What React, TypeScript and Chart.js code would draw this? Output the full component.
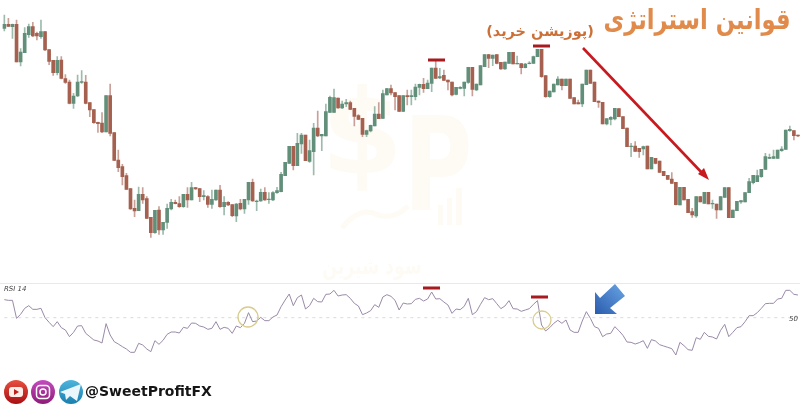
import React, { useEffect, useRef } from "react";
import { Chart, registerables } from "chart.js";

Chart.register(...registerables);

const opens = [
  635,647,640,647,534,562,616,640,620,610,
  625,571,539,502,540,484,474,410,432,473,
  474,412,391,353,351,324,433,322,240,220,
  193,154,95,88,137,124,68,22,90,30,
  53,93,113,109,100,137,120,157,154,130,
  130,107,120,150,100,113,106,72,110,93,
  120,173,115,117,143,121,120,142,145,193,
  230,281,223,288,315,236,265,336,312,312,
  383,383,426,396,408,412,395,373,365,317,
  327,342,378,365,435,454,442,433,386,433,
  430,430,458,467,454,470,516,486,494,480,
  474,437,455,455,473,518,450,465,520,556,
  545,556,533,513,530,563,528,529,517,529,
  530,550,572,493,430,444,465,483,463,483,
  427,412,408,466,510,474,417,413,348,362,
  363,394,370,336,280,282,275,273,282,213,
  245,237,206,194,183,173,105,158,122,85,
  72,130,110,143,108,108,90,128,157,67,
  88,114,114,142,172,175,190,212,245,245,
  245,268,272,328,328,315,
];
const highs = [
  675,665,648,660,574,637,648,653,624,660,
  625,571,539,550,550,496,480,440,495,508,
  494,412,391,354,382,433,468,322,270,227,
  200,154,120,159,157,130,68,89,100,53,
  108,122,120,130,137,157,173,158,155,148,
  133,150,150,164,130,115,106,110,122,122,
  173,183,120,153,157,142,145,158,203,233,
  281,281,320,320,315,300,350,387,317,408,
  432,453,426,417,422,417,395,376,365,330,
  345,400,412,450,455,465,442,433,433,450,
  450,468,468,485,480,516,540,515,510,480,
  474,458,460,474,518,518,468,523,556,557,
  555,556,533,534,563,563,552,529,530,535,
  552,572,572,493,447,468,490,483,483,483,
  427,420,468,510,510,474,417,413,364,370,
  395,394,370,336,290,295,275,282,282,248,
  245,237,206,194,202,173,158,158,122,95,
  130,130,143,143,120,108,130,157,157,90,
  116,118,142,185,194,210,212,260,258,270,
  270,280,330,342,328,315,
];
const lows = [
  627,640,605,534,522,562,608,610,600,605,
  568,526,494,495,483,470,408,395,430,470,
  408,370,350,323,322,324,312,238,205,165,
  152,92,70,88,110,64,8,20,17,17,
  35,90,108,98,98,98,120,152,115,120,
  98,95,119,98,75,103,70,55,90,80,
  107,116,88,116,119,110,118,140,144,193,
  230,210,223,260,238,233,195,310,268,312,
  382,383,395,394,400,391,342,361,310,310,
  324,342,364,364,435,435,390,385,385,405,
  405,420,435,443,454,445,485,484,478,450,
  432,435,453,432,470,432,448,465,520,517,
  523,528,512,512,530,528,528,498,516,528,
  530,550,488,428,428,444,465,450,463,425,
  408,408,400,466,470,415,398,348,345,345,
  360,370,334,280,250,265,248,255,213,213,
  228,203,193,182,170,105,105,120,82,68,
  68,114,110,108,95,65,90,128,67,67,
  88,110,114,142,168,175,188,212,244,244,
  245,266,272,326,300,310,
];
const closes = [
  647,641,647,534,564,620,640,612,612,625,
  570,536,502,539,485,473,410,432,474,475,
  410,390,352,349,324,433,320,239,217,190,
  152,93,87,137,120,65,22,89,30,53,
  95,113,109,100,137,120,157,153,130,133,
  107,122,150,100,113,105,73,108,93,122,
  173,117,117,143,120,123,142,148,197,233,
  281,223,290,315,238,268,336,312,317,385,
  428,427,396,408,412,392,371,362,317,328,
  344,378,364,439,454,441,430,386,433,430,
  433,459,467,454,471,516,485,490,479,474,
  435,458,458,474,518,452,468,523,556,545,
  555,530,513,534,563,528,530,517,528,531,
  550,572,490,430,447,468,483,463,483,425,
  408,408,468,510,470,415,413,348,364,368,
  395,370,334,280,282,266,265,280,213,248,
  230,203,193,182,170,106,158,120,82,75,
  130,114,143,108,110,90,130,157,67,90,
  116,118,142,175,194,193,212,250,248,250,
  270,273,330,332,313,312,
];
const rsi = [
  63.5,63,63,49.5,52.5,57,59,56.25,56.25,57,
  50,46.5,43.25,47,42.5,40.75,35.75,39,43.75,44,
  38.25,35.75,33.25,32.5,31,45.5,37,32,30.25,28.25,
  26.5,24,24,30.75,29.5,26.5,24.5,32.75,30,33,
  37.5,39.25,39.25,38.5,42.75,42,46,45.75,43.75,43,
  41.25,42,47,41.25,42.75,42,38.25,43.75,42.5,45.75,
  53.75,47,47.5,50.25,47.75,47.75,50.5,52,58.25,63.25,
  67.75,59,65,67,56.5,59,64.5,62,61.75,67.5,
  67.75,70.5,66.25,67,67.25,64.5,60.75,58.75,52.25,53.5,
  55.25,59.75,57.75,65.5,67.25,66,63,55.75,61,60.25,
  60.5,63.75,64.5,62.5,64,69.25,64,64.25,61.75,59.5,
  53.25,56.5,56,58.5,64.5,52.25,54.5,60,65,63.5,
  64.25,60.5,56.75,58.75,62.75,56.75,56.5,54.75,55.75,56.75,
  60,62.75,44.5,40,42.5,45.75,48,45.75,48.25,40.75,
  39,39,47.5,54.5,49.5,43.25,42,35.75,37.75,38.25,
  43.25,40.25,36.75,31.75,31.5,30.25,31.25,32.75,27,33.5,
  32.5,29.75,28.75,27.75,26.75,22,31.5,29,26,25.5,
  35,33.75,39,36,35.5,34,40.5,45,35.75,39,
  42.5,43.25,47,51.5,51.5,53.75,57,60.5,60.75,60.75,
  64,64.5,70.5,70.5,67.5,67,
];
const rsiMid = rsi.map(() => 50);
const labels = opens.map((_, i) => String(i));

const titleText = "قوانین استراتژی";
const subtitleText = "(پوزیشن خرید)";
const watermarkText = "سود شیرین";
const handleText = "@SweetProfitFX";
const rsiLabel = "RSI 14";
const midLabel = "50";

const GREEN = "#628f79";
const RED = "#a5604f";
const GREEN_W = "#9dbbac";
const RED_W = "#c9a097";

function drawBackdrop(ctx: CanvasRenderingContext2D) {
  ctx.save();
  ctx.fillStyle = "#ffffff";
  ctx.fillRect(0, 0, 800, 409);
  ctx.fillStyle = "#fefbf5";
  ctx.textAlign = "center";
  ctx.textBaseline = "middle";
  ctx.font = "bold 118px 'DejaVu Sans'";
  ctx.fillText("$", 362, 143);
  ctx.save();
  ctx.translate(438, 176);
  ctx.scale(0.72, 1);
  ctx.font = "bold 130px 'DejaVu Sans'";
  ctx.fillText("P", 0, 0);
  ctx.restore();
  ctx.fillRect(438, 205, 5, 20);
  ctx.fillRect(447, 198, 5, 27);
  ctx.fillRect(456, 188, 6, 37);
  ctx.strokeStyle = "#fefbf5";
  ctx.lineWidth = 5;
  ctx.beginPath();
  ctx.moveTo(342, 228);
  ctx.quadraticCurveTo(360, 205, 378, 215);
  ctx.quadraticCurveTo(395, 220, 408, 206);
  ctx.stroke();
  ctx.save();
  ctx.translate(372, 268);
  ctx.scale(0.72, 1);
  ctx.font = "bold 24px 'DejaVu Sans'";
  ctx.fillText(watermarkText, 0, 0);
  ctx.restore();
  ctx.strokeStyle = "#e9e9e9";
  ctx.lineWidth = 1;
  ctx.beginPath();
  ctx.moveTo(0, 283.5);
  ctx.lineTo(800, 283.5);
  ctx.stroke();
  ctx.restore();
}

function dash(ctx: CanvasRenderingContext2D, x0: number, x1: number, y: number) {
  ctx.fillStyle = "#a81a1e";
  ctx.fillRect(x0, y - 1.5, x1 - x0, 3);
}

function ring(ctx: CanvasRenderingContext2D, x: number, y: number, r: number) {
  ctx.strokeStyle = "#d9cc8e";
  ctx.lineWidth = 1.3;
  ctx.beginPath();
  ctx.arc(x, y, r, 0, Math.PI * 2);
  ctx.stroke();
}

function badge(ctx: CanvasRenderingContext2D, x: number, y: number, c0: string, c1: string) {
  const g = ctx.createLinearGradient(x, y - 12, x, y + 12);
  g.addColorStop(0, c0);
  g.addColorStop(1, c1);
  ctx.fillStyle = g;
  ctx.beginPath();
  ctx.arc(x, y, 12, 0, Math.PI * 2);
  ctx.fill();
}

function drawOverlay(ctx: CanvasRenderingContext2D) {
  ctx.save();
  ctx.textBaseline = "middle";
  ctx.direction = "rtl";
  ctx.textAlign = "center";
  ctx.fillStyle = "#e08b4c";
  ctx.save();
  ctx.translate(697, 22);
  ctx.scale(0.87, 1.08);
  ctx.font = "bold 26px 'DejaVu Sans'";
  ctx.fillText(titleText, 0, 0);
  ctx.restore();
  ctx.fillStyle = "#cc7038";
  ctx.font = "bold 14.5px 'DejaVu Sans'";
  ctx.fillText(subtitleText, 540, 32);
  ctx.direction = "ltr";

  dash(ctx, 428, 445, 60);
  dash(ctx, 533, 550, 46);
  dash(ctx, 423, 440, 288);
  dash(ctx, 531, 548, 297);

  ring(ctx, 248, 317, 10);
  ring(ctx, 542, 320, 9);

  ctx.strokeStyle = "#c8191e";
  ctx.lineWidth = 2.6;
  ctx.beginPath();
  ctx.moveTo(583, 48);
  ctx.lineTo(704, 175);
  ctx.stroke();
  ctx.fillStyle = "#c8191e";
  ctx.beginPath();
  ctx.moveTo(709, 180);
  ctx.lineTo(698, 174);
  ctx.lineTo(704, 168);
  ctx.closePath();
  ctx.fill();

  const blue = ctx.createLinearGradient(625, 284, 595, 314);
  blue.addColorStop(0, "#6aa5e4");
  blue.addColorStop(1, "#2a5cae");
  ctx.fillStyle = blue;
  ctx.beginPath();
  ctx.moveTo(595, 292);
  ctx.lineTo(600, 298);
  ctx.lineTo(615, 284);
  ctx.lineTo(625, 296);
  ctx.lineTo(610, 308);
  ctx.lineTo(617, 314);
  ctx.lineTo(595, 314);
  ctx.closePath();
  ctx.fill();

  ctx.fillStyle = "#444444";
  ctx.textAlign = "left";
  ctx.font = "italic 7px 'DejaVu Sans'";
  ctx.fillText(rsiLabel, 4, 289);
  ctx.fillText(midLabel, 789, 319);

  badge(ctx, 16, 392, "#e8503f", "#a80f14");
  ctx.fillStyle = "#fff0ea";
  ctx.beginPath();
  ctx.roundRect(9, 387, 14, 10, 3);
  ctx.fill();
  ctx.fillStyle = "#c0201c";
  ctx.beginPath();
  ctx.moveTo(14, 389);
  ctx.lineTo(19, 392);
  ctx.lineTo(14, 395);
  ctx.closePath();
  ctx.fill();

  badge(ctx, 43, 392, "#c44bc0", "#8d1c78");
  ctx.strokeStyle = "#ffffff";
  ctx.lineWidth = 1.5;
  ctx.beginPath();
  ctx.roundRect(36.5, 385.5, 13, 13, 3.5);
  ctx.stroke();
  ctx.beginPath();
  ctx.arc(43, 392, 3, 0, Math.PI * 2);
  ctx.stroke();

  badge(ctx, 71, 392, "#4fb4dc", "#1a7fae");
  ctx.fillStyle = "#eaf6fb";
  ctx.beginPath();
  ctx.moveTo(60, 392);
  ctx.lineTo(81, 384);
  ctx.lineTo(77, 401);
  ctx.lineTo(70, 396);
  ctx.lineTo(66, 400);
  ctx.lineTo(65, 394);
  ctx.closePath();
  ctx.fill();

  ctx.fillStyle = "#151515";
  ctx.font = "bold 14px 'DejaVu Sans'";
  ctx.fillText(handleText, 85, 392);
  ctx.restore();
}

export default function App() {
  const ref = useRef<HTMLCanvasElement | null>(null);
  useEffect(() => {
    document.body.style.margin = "0";
    const up = opens.map((o, i) => closes[i] >= o);
    const chart = new Chart(ref.current!, {
      type: "bar",
      data: {
        labels,
        datasets: [
          {
            type: "bar",
            label: "Wick",
            data: lows.map((l, i) => [l, highs[i]]),
            backgroundColor: up.map((u) => (u ? GREEN_W : RED_W)),
            barThickness: 1,
            grouped: false,
            yAxisID: "yPrice",
            order: 3,
          },
          {
            type: "bar",
            label: "Body",
            data: opens.map((o, i) => [Math.min(o, closes[i]), Math.max(o, closes[i])]),
            backgroundColor: up.map((u) => (u ? GREEN : RED)),
            barThickness: 3,
            grouped: false,
            yAxisID: "yPrice",
            order: 2,
          },
          {
            type: "line",
            label: "Level 50",
            data: rsiMid,
            borderColor: "#d9d9d9",
            borderWidth: 1,
            borderDash: [3, 4],
            pointRadius: 0,
            yAxisID: "yRsi",
            order: 1,
          },
          {
            type: "line",
            label: "RSI 14",
            data: rsi,
            borderColor: "#9a8aa8",
            borderWidth: 1,
            pointRadius: 0,
            tension: 0,
            yAxisID: "yRsi",
            order: 0,
          },
        ] as any,
      },
      options: {
        responsive: false,
        animation: false,
        layout: { padding: { left: 2.3, right: 0, top: 0, bottom: 0 } },
        plugins: { legend: { display: false }, tooltip: { enabled: false } },
        scales: {
          x: { display: false, grid: { display: false } },
          yPrice: { display: false, min: -507, max: 720 },
          yRsi: { display: false, min: -18.5, max: 288.25 },
        },
      },
      plugins: [
        {
          id: "decor",
          beforeDatasetsDraw: (c: Chart) => drawBackdrop(c.ctx),
          afterDatasetsDraw: (c: Chart) => drawOverlay(c.ctx),
        },
      ],
    });
    return () => chart.destroy();
  }, []);
  return (
    <div style={{ position: "absolute", left: 0, top: 0, width: 800, height: 409 }}>
      <canvas ref={ref} width={800} height={409} style={{ display: "block" }} />
    </div>
  );
}
